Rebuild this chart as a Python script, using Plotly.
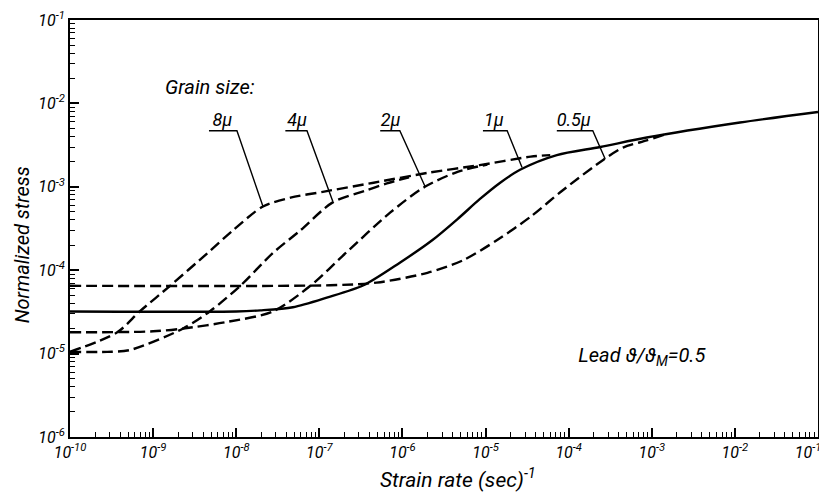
import plotly.graph_objects as go

# ---- data ----
x_8 = [1e-10, 3.7e-10, 6.9e-10, 1.6e-9, 4.5e-9, 9.1e-9, 2.1e-8, 4.5e-8, 1.1e-7, 4.5e-7, 2.1e-6, 8.5e-6, 3.5e-5, 6.0e-5]
y_8 = [1.05e-5, 1.8e-5, 3.2e-5, 6.5e-5, 1.6e-4, 3.0e-4, 5.8e-4, 7.4e-4, 8.7e-4, 1.12e-3, 1.48e-3, 1.82e-3, 2.3e-3, 2.4e-3]

x_4 = [1e-10, 2.8e-10, 5.2e-10, 2.3e-9, 4.8e-9, 1.12e-8, 2.75e-8, 5.9e-8, 1.45e-7, 3.7e-7, 6.5e-7, 1.2e-6]
y_4 = [1.05e-5, 1.05e-5, 1.1e-5, 2.0e-5, 3.2e-5, 6.5e-5, 1.6e-4, 3.0e-4, 6.5e-4, 9.1e-4, 1.1e-3, 1.3e-3]

x_2 = [1e-10, 1e-9, 2.3e-9, 7.8e-9, 2.75e-8, 7.8e-8, 2.1e-7, 7.1e-7, 1.86e-6, 4.6e-6, 1.05e-5]
y_2 = [1.8e-5, 1.85e-5, 2.0e-5, 2.4e-5, 3.2e-5, 6.5e-5, 1.62e-4, 4.9e-4, 1.0e-3, 1.51e-3, 1.85e-3]

x_1 = [1e-10, 1e-8, 1.95e-8, 4.8e-8, 1.23e-7, 3.4e-7, 9.3e-7, 2.3e-6, 4.6e-6, 8.5e-6, 1.5e-5, 2.6e-5, 7.2e-5, 2.4e-4, 8.7e-4, 1.15e-2, 1e-1]
y_1 = [3.2e-5, 3.2e-5, 3.3e-5, 3.6e-5, 4.7e-5, 6.6e-5, 1.23e-4, 2.3e-4, 4.1e-4, 7.1e-4, 1.12e-3, 1.6e-3, 2.4e-3, 3.0e-3, 3.9e-3, 5.9e-3, 7.9e-3]

x_05 = [1e-10, 1.35e-7, 4.9e-7, 2.0e-6, 5.4e-6, 1.38e-5, 3.5e-5, 8.5e-5, 2.6e-4, 4.5e-4, 8.7e-4, 1.4e-3]
y_05 = [6.5e-5, 6.6e-5, 7.1e-5, 9.3e-5, 1.32e-4, 2.3e-4, 4.4e-4, 9.1e-4, 2.1e-3, 2.95e-3, 3.6e-3, 4.2e-3]

labels = ["8\u03bc", "4\u03bc", "2\u03bc", "1\u03bc", "0.5\u03bc"]
# leader lines: underline start, underline end (corner), point on curve
lead_x0 = [4.7e-9, 3.9e-8, 5.4e-7, 9.3e-6, 7.2e-5]
lead_x1 = [1.02e-8, 7.1e-8, 9.3e-7, 1.82e-5, 1.95e-4]
lead_y = [4.7e-3, 4.7e-3, 4.7e-3, 4.7e-3, 4.7e-3]
point_x = [2.1e-8, 1.45e-7, 1.86e-6, 2.75e-5, 2.75e-4]
point_y = [5.8e-4, 6.7e-4, 1.02e-3, 1.7e-3, 2.15e-3]
label_x = [6.8e-9, 5.4e-8, 7.2e-7, 1.26e-5, 1.15e-4]

x_tickvals = [1e-10, 1e-9, 1e-8, 1e-7, 1e-6, 1e-5, 1e-4, 1e-3, 1e-2, 1e-1]
x_ticktext = ["10<sup>-10</sup>", "10<sup>-9</sup>", "10<sup>-8</sup>", "10<sup>-7</sup>", "10<sup>-6</sup>",
              "10<sup>-5</sup>", "10<sup>-4</sup>", "10<sup>-3</sup>", "10<sup>-2</sup>", "10<sup>-1</sup>"]
y_tickvals = [1e-6, 1e-5, 1e-4, 1e-3, 1e-2, 1e-1]
y_ticktext = ["10<sup>-6</sup>", "10<sup>-5</sup>", "10<sup>-4</sup>", "10<sup>-3</sup>", "10<sup>-2</sup>", "10<sup>-1</sup>"]

x_title = "Strain rate (sec)<sup>-1</sup>"
y_title = "Normalized stress"

FONT = "Roboto, DejaVu Sans, sans-serif"
DASH = "11px,5px"

fig = go.Figure()
series = [(x_8, y_8, DASH), (x_4, y_4, DASH), (x_2, y_2, DASH), (x_1, y_1, "solid"), (x_05, y_05, DASH)]
for xs, ys, d in series:
    fig.add_trace(go.Scatter(x=xs, y=ys, mode="lines",
                             line=dict(color="black", width=2.4, dash=d, shape="spline", smoothing=0.8),
                             showlegend=False, hoverinfo="skip"))

for i in range(len(labels)):
    fig.add_trace(go.Scatter(x=[lead_x0[i], lead_x1[i], point_x[i]], y=[lead_y[i], lead_y[i], point_y[i]],
                             mode="lines", line=dict(color="black", width=1.4), showlegend=False, hoverinfo="skip"))
    fig.add_trace(go.Scatter(x=[label_x[i]], y=[lead_y[i]], mode="text", text=["<i>" + labels[i] + "</i>"],
                             textposition="top center", textfont=dict(family=FONT, size=18, color="black"),
                             showlegend=False, hoverinfo="skip"))

fig.add_trace(go.Scatter(x=[4.8e-9], y=[1.5e-2], mode="text", text=["<i>Grain size:</i>"], textposition="middle center",
                         textfont=dict(family=FONT, size=20, color="black"), showlegend=False, hoverinfo="skip"))
fig.add_trace(go.Scatter(x=[7.6e-4], y=[9.1e-6], mode="text", text=["<i>Lead \u03d1/\u03d1<sub>M</sub>=0.5</i>"],
                         textposition="middle center", textfont=dict(family=FONT, size=20, color="black"),
                         showlegend=False, hoverinfo="skip"))

x_minor = [m * 10.0 ** e for e in range(-10, -1) for m in range(2, 10)]
y_minor = [m * 10.0 ** e for e in range(-6, -1) for m in range(2, 10)]

# last x label is nudged left (padding) so that it stays inside the window, as in the reference
x_ticklabels = ["<i>" + t + "</i>" for t in x_ticktext]
x_ticklabels[-1] = x_ticklabels[-1] + "&nbsp;" * 5

fig.update_xaxes(type="log", range=[-10, -1], tickvals=x_tickvals, ticktext=x_ticklabels,
                 ticks="inside", ticklen=9, tickwidth=1.5, tickcolor="black", ticklabeloverflow="allow",
                 minor=dict(tickvals=x_minor, ticks="inside", ticklen=5, tickwidth=1.2, tickcolor="black", showgrid=False),
                 showline=True, linecolor="black", linewidth=2, mirror=True, showgrid=False, zeroline=False,
                 automargin=False, tickfont=dict(family=FONT, size=16, color="black"))
fig.update_yaxes(type="log", range=[-6, -1], tickvals=y_tickvals, ticktext=["<i>" + t + "</i>" for t in y_ticktext],
                 ticks="inside", ticklen=9, tickwidth=1.5, tickcolor="black", ticklabeloverflow="allow",
                 minor=dict(tickvals=y_minor, ticks="inside", ticklen=5, tickwidth=1.2, tickcolor="black", showgrid=False),
                 showline=True, linecolor="black", linewidth=2, mirror=True, showgrid=False, zeroline=False,
                 automargin=False, tickfont=dict(family=FONT, size=16, color="black"))

fig.add_annotation(text="<i>" + x_title + "</i>", xref="paper", yref="paper", x=0.519, y=-0.098,
                   xanchor="center", yanchor="middle", showarrow=False,
                   font=dict(family=FONT, size=21, color="black"))
fig.add_annotation(text="<i>" + y_title + "</i>", xref="paper", yref="paper", x=-0.064, y=0.46,
                   xanchor="center", yanchor="middle", showarrow=False, textangle=-90,
                   font=dict(family=FONT, size=20, color="black"))

# the page body adds an 8px offset, so size the figure to fit the window
fig.update_layout(width=819, height=485, margin=dict(l=62, r=9, t=12, b=56),
                  plot_bgcolor="white", paper_bgcolor="white")

fig.write_html("out.html")
